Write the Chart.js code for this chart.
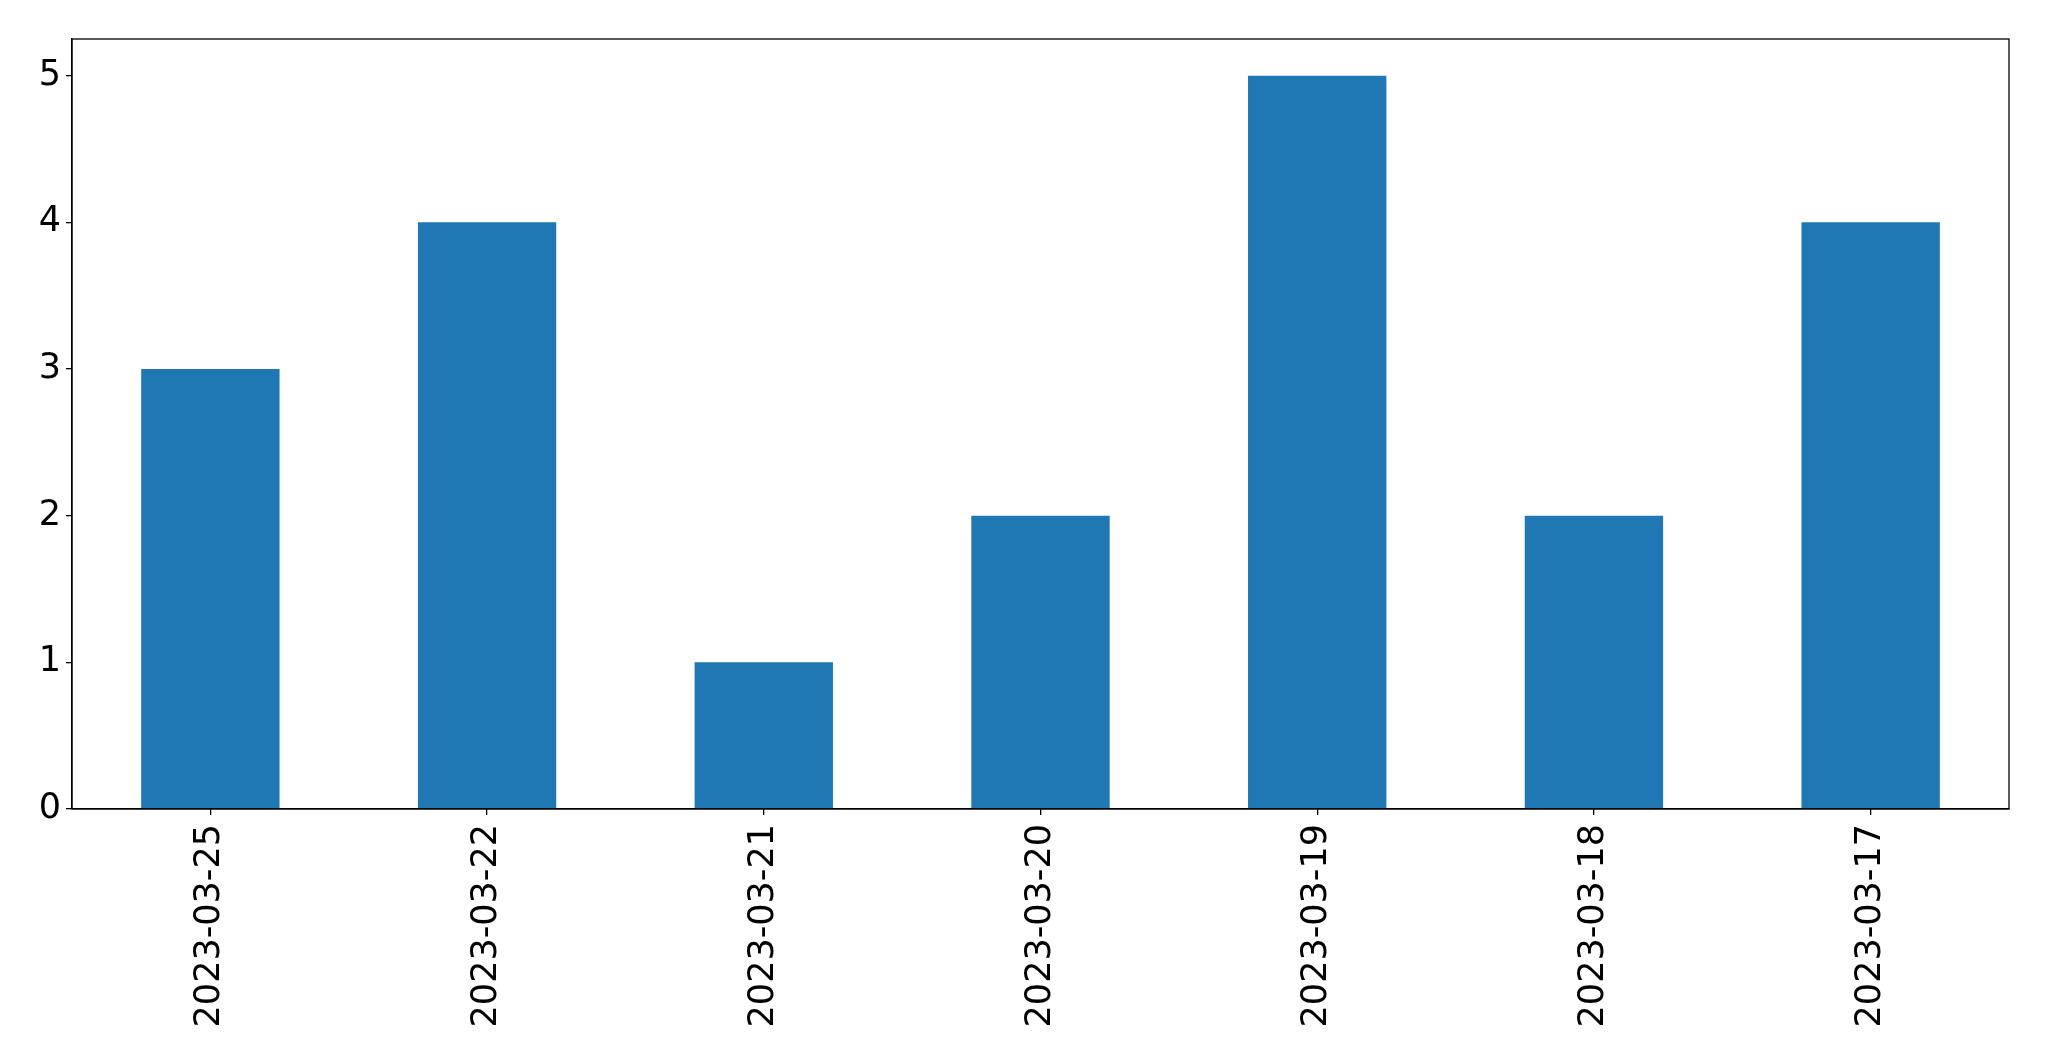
<!DOCTYPE html>
<html>
<head>
<meta charset="utf-8">
<script src="https://cdn.jsdelivr.net/npm/chart.js@4/dist/chart.umd.min.js"></script>
<style>
  html, body { margin: 0; padding: 0; background: #fff; }
  #wrap { width: 2049px; height: 1061px; }
</style>
</head>
<body>
<div id="wrap"><canvas id="chart"></canvas></div>
<script>
// data
const dates = ['2023-03-25', '2023-03-22', '2023-03-21', '2023-03-20', '2023-03-19', '2023-03-18', '2023-03-17'];
const counts = [3, 4, 1, 2, 5, 2, 4];
const yTicks = [0, 1, 2, 3, 4, 5];

// frame around the plot area, like matplotlib spines
const frame = {
    id: 'frame',
    afterDraw(chart) {
        const a = chart.chartArea;
        const ctx = chart.ctx;
        ctx.save();
        ctx.strokeStyle = '#000';
        ctx.lineWidth = 1.3;
        ctx.strokeRect(a.left, a.top, a.right - a.left, a.bottom - a.top);
        ctx.restore();
    }
};

Chart.defaults.font.family = '"DejaVu Sans", sans-serif';
Chart.defaults.color = '#000';

new Chart(document.getElementById('chart'), {
    type: 'bar',
    data: {
        labels: dates,
        datasets: [{
            data: counts,
            backgroundColor: '#1f77b4',
            borderWidth: 0,
            barPercentage: 0.5,
            categoryPercentage: 1.0
        }]
    },
    options: {
        responsive: true,
        maintainAspectRatio: false,
        animation: false,
        devicePixelRatio: 1,
        layout: { padding: { top: 39, right: 40, left: 0, bottom: 0 } },
        plugins: {
            legend: { display: false },
            tooltip: { enabled: false }
        },
        scales: {
            x: {
                grid: { offset: false, drawOnChartArea: false, drawTicks: true, tickLength: 6, color: '#000', lineWidth: 1.3 },
                border: { display: true, color: '#000', width: 1.3 },
                ticks: {
                    font: { size: 35 },
                    minRotation: 90,
                    maxRotation: 90,
                    padding: 9,
                    autoSkip: false
                },
                afterFit(scale) { scale.height = 252; }
            },
            y: {
                min: 0,
                max: 5.25,
                grid: { drawOnChartArea: false, drawTicks: true, tickLength: 6, color: '#000', lineWidth: 1.3 },
                border: { display: true, color: '#000', width: 1.3 },
                afterBuildTicks(scale) { scale.ticks = yTicks.map(v => ({ value: v })); },
                ticks: {
                    font: { size: 35 },
                    padding: 5
                },
                afterFit(scale) { scale.width = 72; }
            }
        }
    },
    plugins: [frame]
});
</script>
</body>
</html>
